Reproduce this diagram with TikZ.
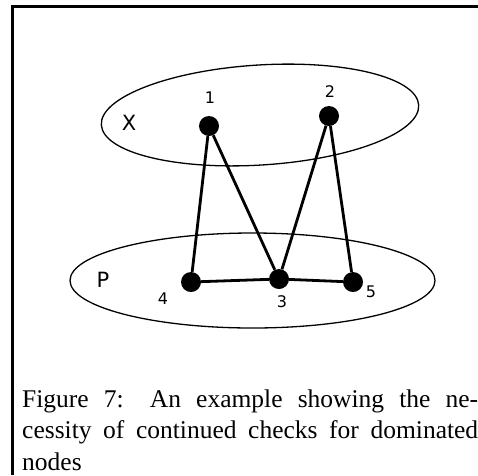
\documentclass[tikz,border=0pt]{standalone}
\usepackage{fontspec}
\setmainfont{Liberation Serif}
\newfontfamily\labelfont{DejaVu Sans}
\usetikzlibrary{shapes.geometric}
\begin{document}
\begin{tikzpicture}[x=1pt,y=-1pt,
  vertex/.style={circle,fill=black,inner sep=0pt,minimum size=20pt},
  edge/.style={line width=2.8pt},
  setell/.style={draw,ellipse,line width=1.3pt,inner sep=0pt},
  lbl/.style={font=\labelfont\fontsize{16}{19}\selectfont,inner sep=0pt},
  setlbl/.style={font=\labelfont\fontsize{21}{24}\selectfont,inner sep=0pt},
  captext/.style={font=\fontsize{25.5}{31}\selectfont,inner sep=0pt,anchor=base west}]
\useasboundingbox (0,0) rectangle (478,475);
\draw[line width=3pt] (478,6) -- (12.5,6) -- (12.5,475);
% sets
\node[setell,minimum width=318pt,minimum height=100pt,rotate=3.6] (X) at (260,115) {};
\node[setell,minimum width=365pt,minimum height=95pt] (P) at (252.5,280.5) {};
\node[setlbl] (lx) at (129,123) {X};
\node[setlbl] (lp) at (103,280) {P};
% vertices
\node[vertex] (v1) at (209,126) {};
\node[vertex] (v2) at (329,116) {};
\node[vertex] (v3) at (279,279) {};
\node[vertex] (v4) at (191,282) {};
\node[vertex] (v5) at (353,282) {};
\node[lbl] (l1) at (210,98) {1};
\node[lbl] (l2) at (330,92) {2};
\node[lbl] (l3) at (282,302) {3};
\node[lbl] (l4) at (163,299) {4};
\node[lbl] (l5) at (371,292) {5};
% edges
\draw[edge] (v1) -- (v4);
\draw[edge] (v1) -- (v3);
\draw[edge] (v2) -- (v3);
\draw[edge] (v2) -- (v5);
\draw[edge] (v4) -- (v3);
\draw[edge] (v3) -- (v5);
% caption
\node[captext] (c1) at (22,407) {\makebox[456pt][s]{Figure 7: An example showing the ne-}};
\node[captext] (c2) at (22,438.5) {\makebox[456pt][s]{cessity of continued checks for dominated}};
\node[captext] (c3) at (22,470) {nodes};
\end{tikzpicture}
\end{document}
